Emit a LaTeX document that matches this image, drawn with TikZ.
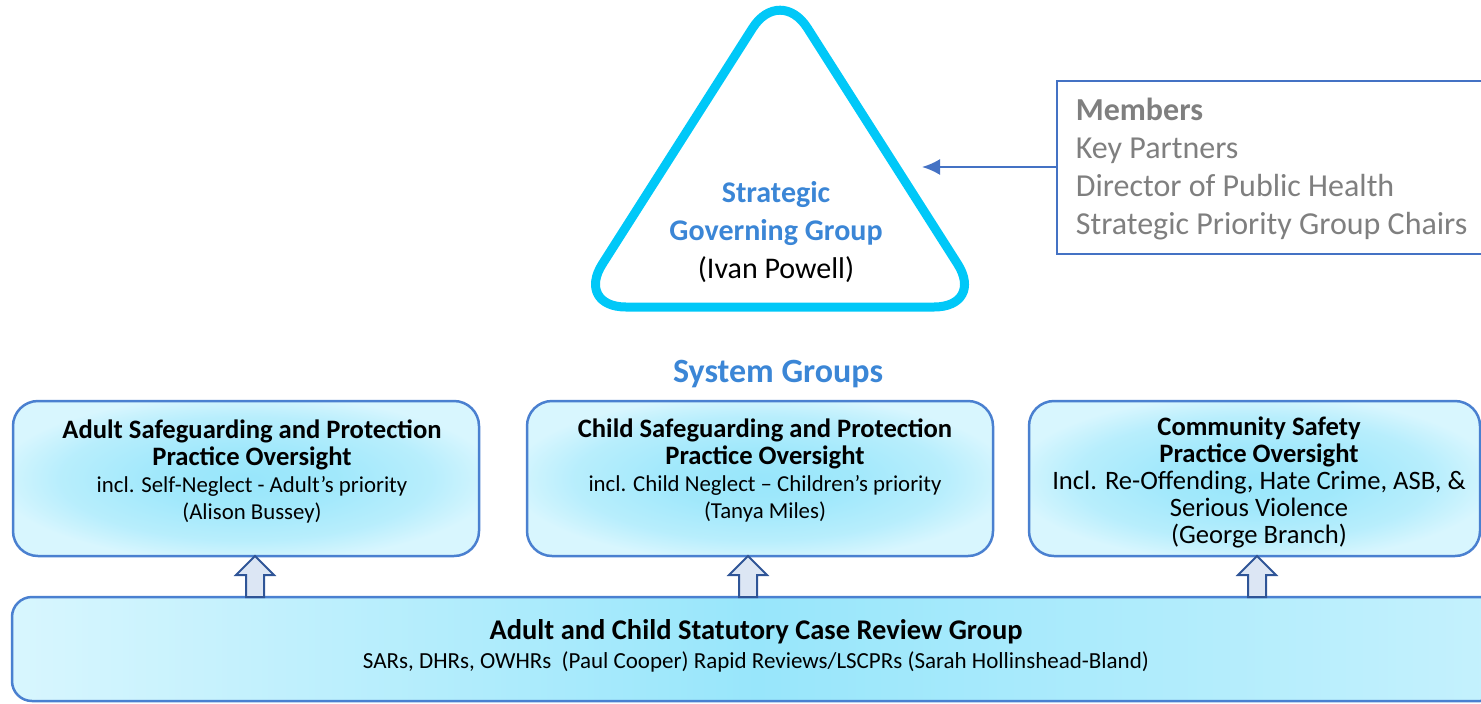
\documentclass[tikz,border=0pt]{standalone}
\usepackage{fontspec}
\setmainfont{Carlito}
\usetikzlibrary{arrows.meta}
\definecolor{tricyan}{HTML}{00C8F8}
\definecolor{titleblue}{HTML}{3B86D6}
\definecolor{membergray}{HTML}{7F7F7F}
\definecolor{linkblue}{HTML}{4472C4}
\definecolor{boxedge}{HTML}{4A80D0}
\definecolor{boxin}{HTML}{98E6FB}
\definecolor{boxout}{HTML}{D8F6FE}
\definecolor{arrfill}{HTML}{DCE6F4}
\definecolor{arredge}{HTML}{2F5597}
\pgfdeclareradialshading{boxglow}{\pgfpoint{0bp}{0bp}}{color(0bp)=(boxin); color(10bp)=(boxin!85!boxout); color(20bp)=(boxin!50!boxout); color(27bp)=(boxout); color(50bp)=(boxout)}
\newcommand{\subfont}{\fontsize{11.4}{13.5}\selectfont}
\begin{document}
\begin{tikzpicture}[x=0.5pt,y=-0.5pt,
  groupbox/.style={draw=boxedge, line width=1.25pt, rounded corners=12.5pt,
    shading=boxglow, minimum height=77.5pt, inner sep=0pt},
  basebox/.style={draw=boxedge, line width=1.25pt, rounded corners=10pt,
    left color=boxout, right color=boxout!70!boxin, middle color=boxin,
    minimum height=52pt, minimum width=744pt, inner sep=0pt},
  boxtext/.style={align=center, inner sep=0pt, font=\fontsize{13.3}{13.5}\selectfont},
  blockarrow/.style={draw=arredge, fill=arrfill, line width=1pt, line join=miter},
  pics/upblock/.style={code={
    \draw[blockarrow] (0,0) -- (19,19) -- (9,19) -- (9,41) -- (-9,41) -- (-9,19) -- (-19,19) -- cycle;}},
  trishape/.style={draw=tricyan, line width=4.5pt, rounded corners=25.5pt, line join=round},
  headline/.style={text=titleblue, font=\fontsize{17}{20}\selectfont\bfseries}
]
\useasboundingbox (0,0) rectangle (1481,703);
\clip (0,0) rectangle (1481,703);

% strategic triangle
\draw[trishape] (780,307) -- (985,307) -- (780,-15) -- (575,307) -- cycle;
\node[align=center, inner sep=0pt, font=\fontsize{15}{19}\selectfont] (sgg) at (776,232)
  {\textcolor{titleblue}{\bfseries Strategic}\\\textcolor{titleblue}{\bfseries Governing Group}\\(Ivan Powell)};

% members box
\node[draw=linkblue, line width=1pt, anchor=west, minimum width=230pt, minimum height=86.5pt,
  inner sep=0pt] (members) at (1056,167) {};
\node[anchor=west, inner sep=0pt, align=left, text=membergray,
  font=\fontsize{16}{19}\selectfont] (mtext) at (1075.5,169)
  {\textbf{Members}\\Key Partners\\Director of Public Health\\Strategic Priority Group Chairs};
\coordinate (tritip) at (922,167);
\draw[linkblue, line width=1pt, -{Latex[length=9pt,width=8pt]}] (members.west) -- (tritip);

% system groups
\node[headline] (sys) at (778,374) {System Groups};

\node[groupbox, minimum width=233pt] (b1) at (246,478.5) {};
\node[groupbox, minimum width=233pt] (b2) at (760,478.5) {};
\node[groupbox, minimum width=225.5pt] (b3) at (1254.5,478.5) {};

\node[boxtext] (t1) at (252,471.5)
  {\textbf{Adult Safeguarding and Protection}\\\textbf{Practice Oversight}\\{\subfont incl. Self-Neglect - Adult’s priority}\\{\subfont (Alison Bussey)}};
\node[boxtext] (t2) at (765,470.5)
  {\textbf{Child Safeguarding and Protection}\\\textbf{Practice Oversight}\\{\subfont incl. Child Neglect – Children’s priority}\\{\subfont (Tanya Miles)}};
\node[boxtext] (t3) at (1259,482)
  {\textbf{Community Safety}\\\textbf{Practice Oversight}\\Incl. Re-Offending, Hate Crime, ASB, \&\\Serious Violence\\(George Branch)};

% statutory case review
\node[basebox] (base) at (756,649) {};
\node[align=center, inner sep=0pt, font=\fontsize{11.5}{14.5}\selectfont] (bt) at (756,646)
  {{\fontsize{14.25}{14.5}\selectfont\bfseries Adult and Child Statutory Case Review Group}\\SARs, DHRs, OWHRs\ \ (Paul Cooper) Rapid Reviews/LSCPRs (Sarah Hollinshead-Bland)};

% up arrows
\pic (u1) at (255,556) {upblock};
\pic (u2) at (748,556) {upblock};
\pic (u3) at (1257,556) {upblock};
\end{tikzpicture}
\end{document}
